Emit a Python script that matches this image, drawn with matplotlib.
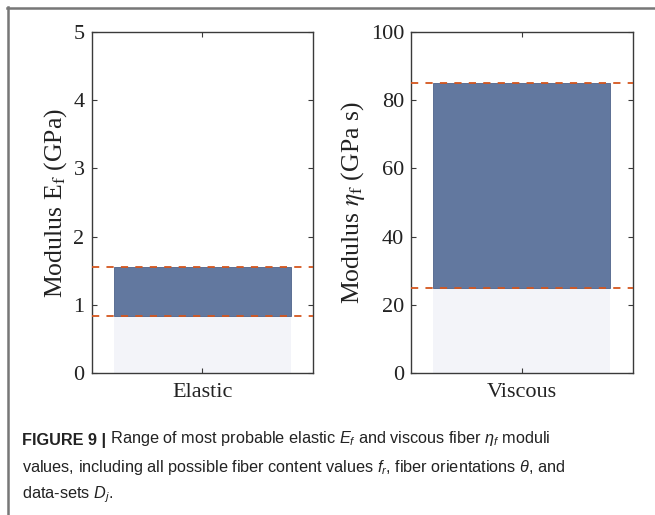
import matplotlib
matplotlib.use("Agg")
import matplotlib.pyplot as plt
from matplotlib.lines import Line2D

# most probable modulus ranges (lower, upper)
categorias = ["Elastic", "Viscous"]
limite_inf = [0.84, 25.0]
limite_sup = [1.56, 85.0]
ylims = [5, 100]
yticks = [[0, 1, 2, 3, 4, 5], [0, 20, 40, 60, 80, 100]]
ylabels = [r"Modulus E$_\mathrm{f}$ (GPa)", r"Modulus $\eta_\mathrm{f}$ (GPa s)"]

plt.rcParams["mathtext.fontset"] = "custom"
plt.rcParams["mathtext.rm"] = "Liberation Sans"
plt.rcParams["mathtext.it"] = "Liberation Sans:italic"

W, H = 655, 515
fig = plt.figure(figsize=(W / 100, H / 100), dpi=100)

cor_clara = "#f3f4f9"
cor_escura = "#62789f"
cor_linha = "#d4561e"
cor_eixo = "#3a3a3a"
cor_texto = "#222222"
serif = "Liberation Serif"

lefts = [91.5, 411]
for i in range(2):
    ax = fig.add_axes([lefts[i] / W, 1 - 373 / H, 221.5 / W, 341 / H])
    lo, hi = limite_inf[i], limite_sup[i]
    ax.bar(1, lo, width=0.8, color=cor_clara, zorder=1)
    ax.bar(1, hi - lo, bottom=lo, width=0.8, color=cor_escura,
           edgecolor="#4f638a", linewidth=0.6, zorder=2)
    ax.axhline(lo, color=cor_linha, linestyle=(0, (4, 4)), linewidth=1.3, zorder=3)
    ax.axhline(hi, color=cor_linha, linestyle=(0, (4, 4)), linewidth=1.3, zorder=3)
    ax.set_xlim(0.5, 1.5)
    ax.set_ylim(0, ylims[i])
    ax.set_xticks([1])
    ax.set_xticklabels([categorias[i]], fontfamily=serif, fontsize=16)
    ax.set_yticks(yticks[i])
    ax.set_yticklabels([str(t) for t in yticks[i]], fontfamily=serif, fontsize=16)
    ax.tick_params(direction="in", length=3.5, width=0.8, color=cor_eixo,
                   top=True, right=True, labelcolor=cor_texto, pad=5)
    ax.tick_params(axis="x", pad=7)
    for s in ax.spines.values():
        s.set_color(cor_eixo)
        s.set_linewidth(1.0)
    ax.set_ylabel(ylabels[i], fontfamily=serif, fontsize=18.5, color=cor_texto,
                  math_fontfamily="stix", labelpad=3)

# frame around the figure panel
fig.add_artist(Line2D([7 / W, 1], [1 - 7.5 / H, 1 - 7.5 / H], transform=fig.transFigure,
                      color="#777777", linewidth=1.8))
fig.add_artist(Line2D([7.5 / W, 7.5 / W], [0, 1 - 7 / H], transform=fig.transFigure,
                      color="#777777", linewidth=1.8))

# caption
fs = 11.7
x0 = 22 / W
cap = dict(fontfamily="Liberation Sans", fontsize=fs, color=cor_texto)
t1 = fig.text(x0, 1 - 445 / H, "FIGURE 9 |", fontweight="bold", **cap)
fig.add_artist(plt.Annotation(
    r" Range of most probable elastic $E_f$ and viscous fiber $\eta_f$ moduli",
    xy=(1, 0), xycoords=t1, va="bottom", ha="left", **cap))
fig.text(x0, 1 - 472 / H,
         r"values, including all possible fiber content values $f_r$, fiber orientations $\theta$, and",
         **cap)
fig.text(x0, 1 - 498 / H, r"data-sets $D_j$.", **cap)

fig.savefig("out.png", dpi=100)
plt.close(fig)
